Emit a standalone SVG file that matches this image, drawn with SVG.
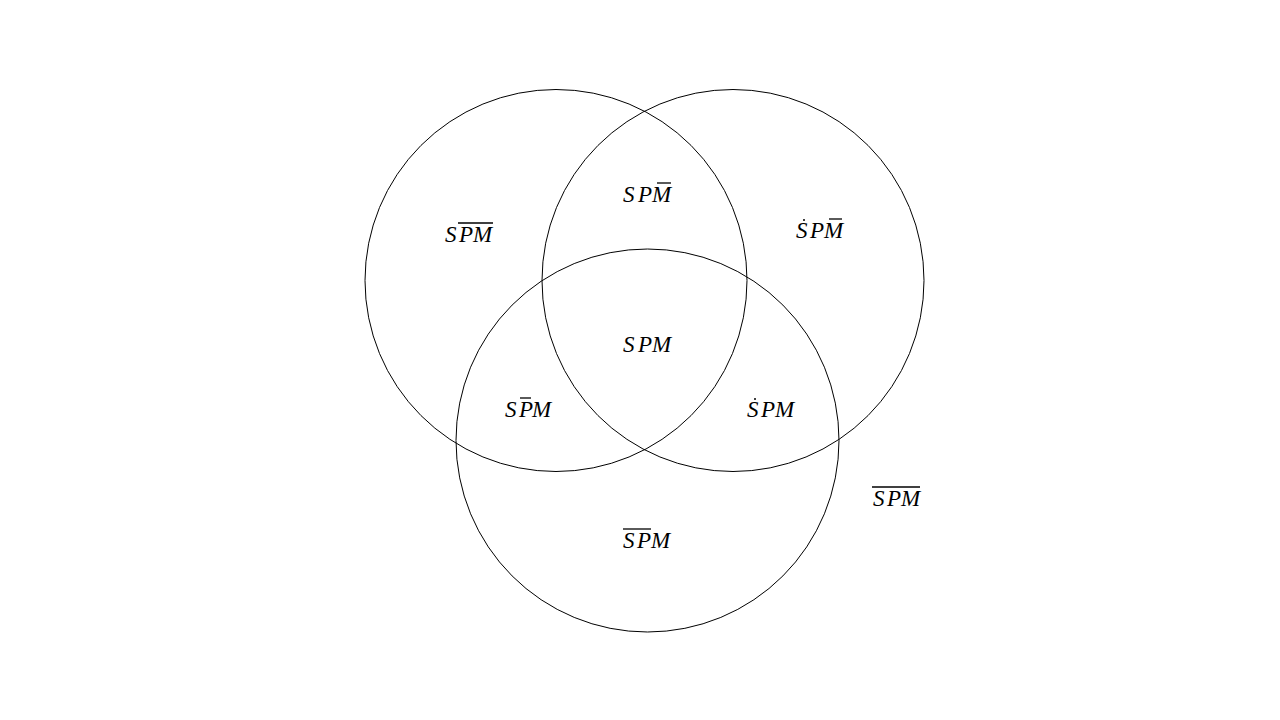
<svg xmlns="http://www.w3.org/2000/svg" width="1280" height="720" viewBox="0 0 1280 720">
<style>
.c{fill:none;stroke:#000;stroke-width:1}
.t{font-family:"Liberation Serif",serif;font-style:italic;font-size:23px;fill:#000}
.o{stroke:#000;stroke-width:1.3;fill:none}
</style>
<rect width="1280" height="720" fill="#fff"/>
<g id="circles">
<circle id="circleS" class="c" cx="556" cy="280.5" r="191"/>
<circle id="circleP" class="c" cx="733" cy="280.5" r="191"/>
<circle id="circleM" class="c" cx="647.5" cy="440.5" r="191.5"/>
</g>
<g id="label1"><text class="t" x="445 459 473" y="242">SPM</text><line class="o" x1="458" y1="223" x2="493" y2="223"/></g>
<g id="label2"><text class="t" x="623 638 652" y="202">SPM</text><line class="o" x1="657" y1="183" x2="671" y2="183"/></g>
<g id="label3"><text class="t" x="796 810 824" y="238">SPM</text><line class="o" x1="803" y1="220" x2="805" y2="220"/><line class="o" x1="829" y1="219" x2="842" y2="219"/></g>
<g id="label4"><text class="t" x="623 638 652" y="352">SPM</text></g>
<g id="label5"><text class="t" x="505 519 532" y="417">SPM</text><line class="o" x1="520" y1="398" x2="531" y2="398"/></g>
<g id="label6"><text class="t" x="747 761 775" y="417">SPM</text><line class="o" x1="754" y1="399" x2="756" y2="399"/></g>
<g id="label7"><text class="t" x="623 637 651" y="548">SPM</text><line class="o" x1="623" y1="529" x2="651" y2="529"/></g>
<g id="label8"><text class="t" x="873 887 901" y="506">SPM</text><line class="o" x1="872" y1="487" x2="920" y2="487"/></g>
</svg>
